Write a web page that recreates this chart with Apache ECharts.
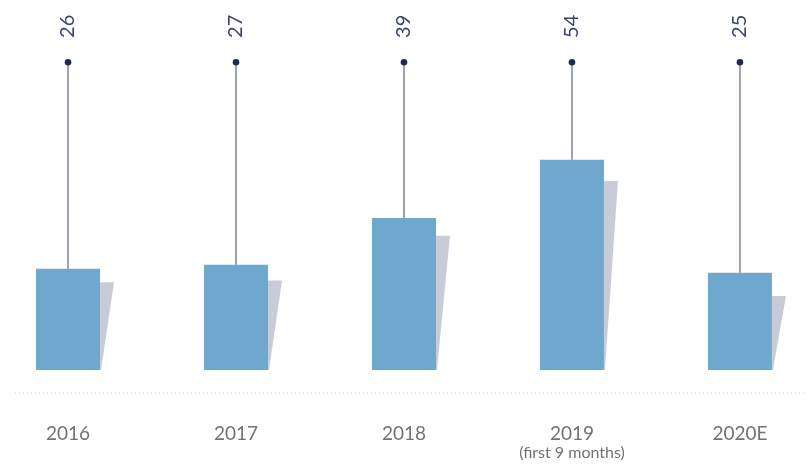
<!DOCTYPE html>
<html>
<head>
<meta charset="utf-8">
<script src="https://cdn.jsdelivr.net/npm/echarts@6/dist/echarts.min.js"></script>
<style>html,body{margin:0;padding:0;background:#fff;}#c{width:810px;height:464px;}</style>
</head>
<body>
<div id="c"></div>
<script>
const categories = ["2016", "2017", "2018", "2019", "2020E"];
const subLabels = ["", "", "", "(first 9 months)", ""];
const values = [26, 27, 39, 54, 25];
const shadowValues = [22.5, 23, 34.5, 48.5, 19];
const pinValue = 79;

const chart = echarts.init(document.getElementById('c'));
const data = values.map((v, i) => [i, v, shadowValues[i]]);

chart.setOption({
  animation: false,
  grid: { left: 0, right: 0, top: 0, height: 370 },
  xAxis: { type: 'value', min: -0.405, max: 4.417, show: false, splitLine: { show: false } },
  yAxis: { type: 'value', min: 0, max: 95, show: false, splitLine: { show: false } },
  graphic: [{
    type: 'line', silent: true,
    shape: { x1: 15, y1: 393, x2: 805, y2: 393 },
    style: { stroke: '#c8c8c8', lineWidth: 1, lineDash: [1, 3] }
  }],
  series: [{
    type: 'custom',
    data: data,
    renderItem: function (params, api) {
      const i = api.value(0);
      const base = api.coord([i, 0]);
      const top = api.coord([i, api.value(1)]);
      const sh = api.coord([i, api.value(2)]);
      const pin = api.coord([i, pinValue]);
      const w = 64;
      const x0 = base[0] - w / 2, x1 = base[0] + w / 2;
      const children = [
        { type: 'polygon', shape: { points: [[x1, sh[1]], [x1 + 14, sh[1]], [x1 + 1, base[1]], [x1, base[1]]] }, style: { fill: '#c9ccd7' } },
        { type: 'rect', shape: { x: x0, y: top[1], width: w, height: base[1] - top[1] }, style: { fill: '#6fa8cd' } },
        { type: 'line', shape: { x1: base[0], y1: pin[1], x2: base[0], y2: top[1] }, style: { stroke: '#68718f', lineWidth: 1.3 } },
        { type: 'circle', shape: { cx: base[0], cy: pin[1], r: 3.3 }, style: { fill: '#1f2a4f' } },
        { type: 'text', x: base[0], y: pin[1] - 36, rotation: Math.PI / 2,
          style: { text: String(api.value(1)), fontFamily: 'Lato', fontSize: 20, fill: '#3a4566', align: 'center', verticalAlign: 'middle' } },
        { type: 'text', x: base[0], y: base[1] + 54,
          style: { text: categories[i], fontFamily: 'Lato', fontSize: 19, fill: '#727272', align: 'center', verticalAlign: 'top' } }
      ];
      if (subLabels[i]) {
        children.push({ type: 'text', x: base[0], y: base[1] + 75,
          style: { text: subLabels[i], fontFamily: 'Lato', fontSize: 16, fill: '#727272', align: 'center', verticalAlign: 'top' } });
      }
      return { type: 'group', children: children };
    }
  }]
});
</script>
</body>
</html>
